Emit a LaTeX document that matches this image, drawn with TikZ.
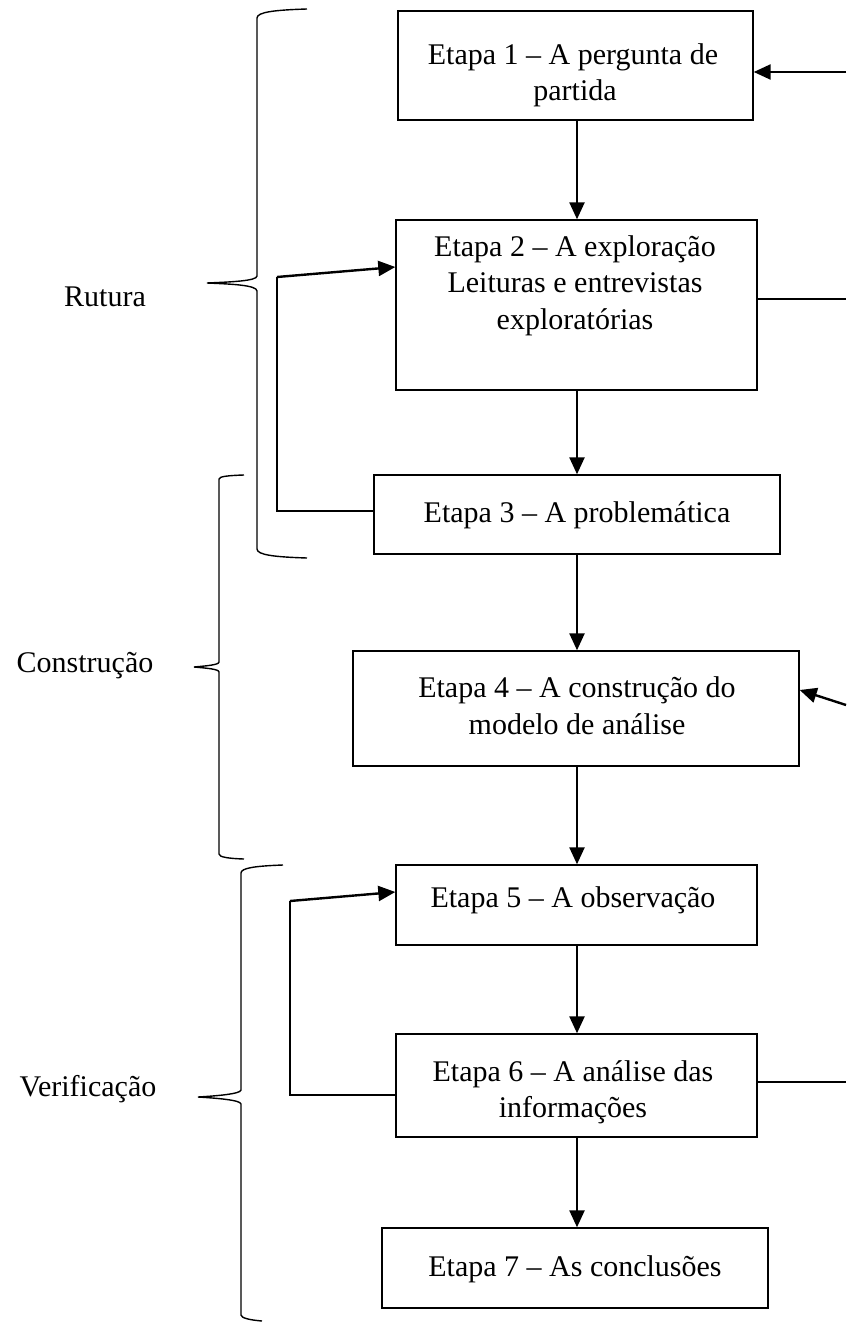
\documentclass[tikz,border=0pt]{standalone}
\usepackage{fontspec}
\setmainfont{Liberation Serif}
\usetikzlibrary{arrows.meta}
\begin{document}
\begin{tikzpicture}[x=1pt,y=-1pt,
  box/.style={draw=black,line width=1.4pt,inner sep=0pt,fill=white},
  txt/.style={anchor=base,inner sep=0pt,font=\fontsize{30}{36}\selectfont},
  arr/.style={line width=2.4pt,-{Triangle[length=17pt,width=15pt]}},
  thinln/.style={line width=1.3pt},
  brace/.style={line width=1.4pt}]
\useasboundingbox (0,0) rectangle (846,1324);
% boxes
\node[box,minimum width=355pt,minimum height=109pt] (b1) at (575.5,65.5) {};
\node[box,minimum width=361pt,minimum height=170pt] (b2) at (576.5,305) {};
\node[box,minimum width=406pt,minimum height=79pt] (b3) at (577,514.5) {};
\node[box,minimum width=446pt,minimum height=115pt] (b4) at (576,708.5) {};
\node[box,minimum width=361pt,minimum height=80pt] (b5) at (576.5,905) {};
\node[box,minimum width=361pt,minimum height=103pt] (b6) at (576.5,1085.5) {};
\node[box,minimum width=386pt,minimum height=80pt] (b7) at (575,1268) {};
% texts
\node[txt] (t1a) at (573,65) {Etapa 1 – A pergunta de};
\node[txt] (t1b) at (575,101) {partida};
\node[txt] (t2a) at (575,256) {Etapa 2 – A exploração};
\node[txt] (t2b) at (575,292) {Leituras e entrevistas};
\node[txt] (t2c) at (575,329) {exploratórias};
\node[txt] (t3) at (577,522) {Etapa 3 – A problemática};
\node[txt] (t4a) at (577,697) {Etapa 4 – A construção do};
\node[txt] (t4b) at (577,734) {modelo de análise};
\node[txt] (t5) at (573,907) {Etapa 5 – A observação};
\node[txt] (t6a) at (573,1081) {Etapa 6 – A análise das};
\node[txt] (t6b) at (573,1117) {informações};
\node[txt] (t7) at (575,1276) {Etapa 7 – As conclusões};
\node[txt] (lr) at (105,306) {Rutura};
\node[txt] (lc) at (85,672) {Construção};
\node[txt] (lv) at (88,1096) {Verificação};
% vertical arrows
\coordinate (ax) at (577,0);
\draw[arr] (b1.south -| ax) -- (b2.north -| ax);
\draw[arr] (b2.south -| ax) -- (b3.north -| ax);
\draw[arr] (b3.south -| ax) -- (b4.north -| ax);
\draw[arr] (b4.south -| ax) -- (b5.north -| ax);
\draw[arr] (b5.south -| ax) -- (b6.north -| ax);
\draw[arr] (b6.south -| ax) -- (b7.north -| ax);
% right side connectors
\coordinate (r1) at (846,72);
\draw[arr] (r1) -- (r1 -| b1.east);
\coordinate (r2) at (846,299);
\draw[thinln] (r2 -| b2.east) -- (r2);
\coordinate (r4) at (846,705);
\coordinate (e4) at (0,690);
\draw[arr] (r4) -- (b4.east |- e4);
\coordinate (r6) at (846,1082);
\draw[thinln] (r6 -| b6.east) -- (r6);
% feedback loops
\coordinate (l1b) at (277,511);
\coordinate (l1t) at (277,277);
\coordinate (e2) at (0,267);
\draw[thinln] (b3.west |- l1b) -- (l1b) -- (l1t);
\draw[arr] (l1t) -- (b2.west |- e2);
\coordinate (l2b) at (290,1095);
\coordinate (l2t) at (290,901);
\coordinate (e5) at (0,892);
\draw[thinln] (b6.west |- l2b) -- (l2b) -- (l2t);
\draw[arr] (l2t) -- (b5.west |- e5);
% braces
\draw[brace] (307,9) .. controls (275,10) and (257,12) .. (257,18) -- (257,276)
  .. controls (257,281) and (230,282) .. (207,283)
  .. controls (230,284) and (257,285) .. (257,291) -- (257,549)
  .. controls (257,555) and (275,557) .. (307,558);
\draw[brace] (244,475) .. controls (228,475.5) and (219,476.5) .. (219,479) -- (219,662)
  .. controls (219,665) and (205,666) .. (194,667)
  .. controls (205,668) and (219,669) .. (219,672) -- (219,854)
  .. controls (219,857) and (228,858.5) .. (244,859);
\draw[brace] (283,865) .. controls (255,866) and (241,868) .. (241,873) -- (241,1090)
  .. controls (241,1094) and (215,1096) .. (198,1097)
  .. controls (215,1098) and (241,1100) .. (241,1104) -- (241,1315)
  .. controls (241,1318) and (250,1320) .. (262,1321);
\end{tikzpicture}
\end{document}
